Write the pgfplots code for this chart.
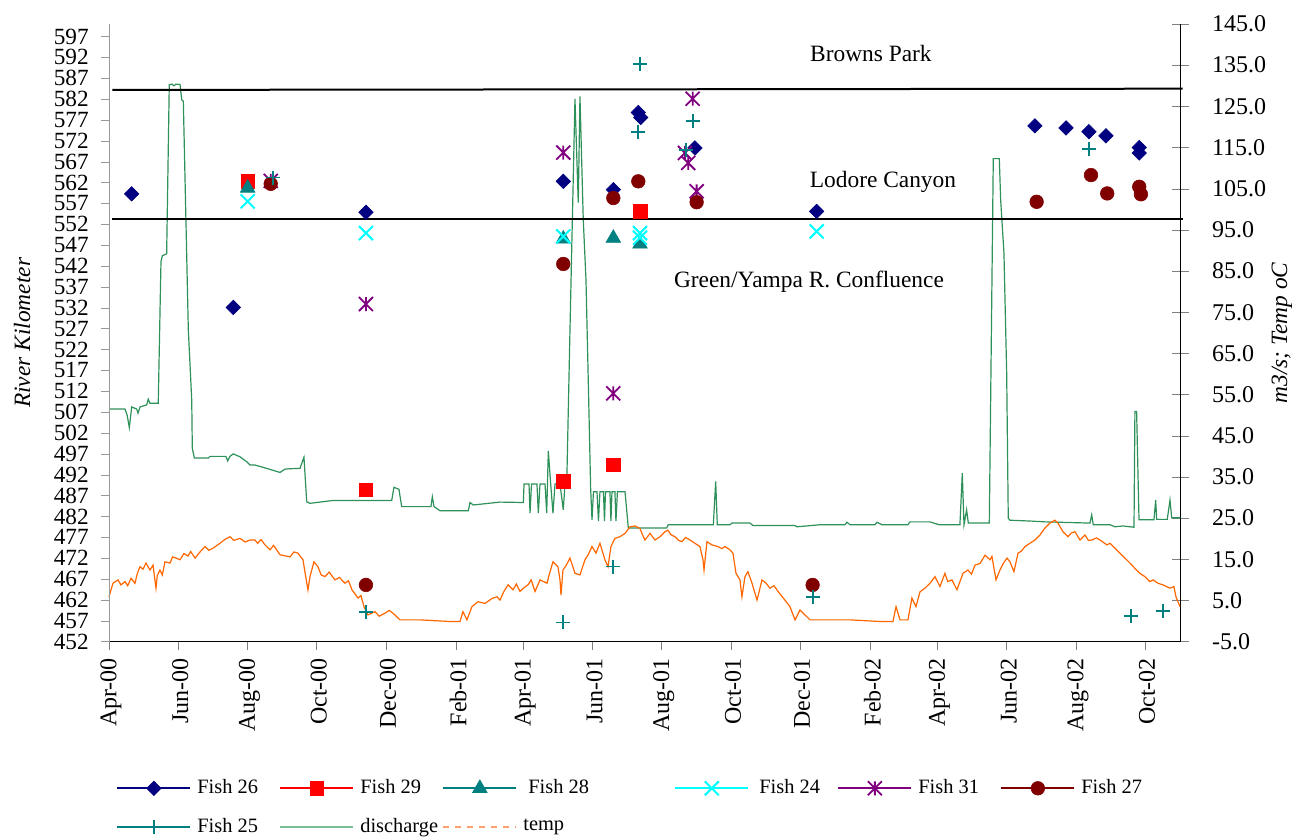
\documentclass[border=0pt]{standalone}
\usepackage{fontspec}
\setmainfont{Liberation Serif}
\usepackage{pgfplots}
\pgfplotsset{compat=1.18}
\definecolor{navyc}{RGB}{0,0,128}
\definecolor{redc}{RGB}{255,0,0}
\definecolor{tealc}{RGB}{0,128,128}
\definecolor{cyanc}{RGB}{0,255,255}
\definecolor{purplec}{RGB}{128,0,128}
\definecolor{darkredc}{RGB}{128,0,0}
\definecolor{dischc}{RGB}{46,145,90}
\definecolor{dischl}{RGB}{120,190,150}
\definecolor{tempc}{RGB}{255,102,0}
\definecolor{templ}{RGB}{255,160,110}
\makeatletter
\pgfdeclareplotmark{xstar}{%
  \pgfpathmoveto{\pgfqpoint{-\pgfplotmarksize}{-\pgfplotmarksize}}%
  \pgfpathlineto{\pgfqpoint{\pgfplotmarksize}{\pgfplotmarksize}}%
  \pgfpathmoveto{\pgfqpoint{-\pgfplotmarksize}{\pgfplotmarksize}}%
  \pgfpathlineto{\pgfqpoint{\pgfplotmarksize}{-\pgfplotmarksize}}%
  \pgfpathmoveto{\pgfqpoint{0pt}{-\pgfplotmarksize}}%
  \pgfpathlineto{\pgfqpoint{0pt}{\pgfplotmarksize}}%
  \pgfusepathqstroke}
\makeatother
\pgfplotsset{
 f26/.style={color=navyc, mark=square*, mark size=2.55pt, mark options={rotate=45, line width=0.3pt, solid}},
 f29/.style={color=redc, mark=square*, mark size=3.4pt, mark options={line width=0.3pt, solid}},
 f28/.style={color=tealc, mark=triangle*, mark size=4.2pt, mark options={line width=0.3pt, solid}},
 f24/.style={color=cyanc, mark=x, mark size=4.95pt, mark options={line width=1pt, solid}},
 f31/.style={color=purplec, mark=xstar, mark size=3.5pt, mark options={line width=0.9pt, solid}},
 f27/.style={color=darkredc, mark=*, mark size=3.4pt, mark options={line width=0.3pt, solid}},
 f25/.style={color=tealc, mark=+, mark size=3.5pt, mark options={line width=0.9pt, solid}},
}
\newcommand{\lt}[2]{\makebox[#1][l]{\hspace{3pt}#2}}
\begin{document}
\fontsize{12}{14}\selectfont
\begin{tikzpicture}
\useasboundingbox (0,0) rectangle (648.5pt,420pt);
% right axis: discharge and temperature
\begin{axis}[
  at={(54.5pt,99.15pt)}, anchor=south west,
  scale only axis, width=535.65pt, height=308.85pt,
  xmin=0, xmax=944, ymin=-5, ymax=145,
  axis x line=none, axis y line*=right,
  ytick={-5,5,...,145},
  tick align=center, major tick length=8.3pt,
  yticklabel={\pgfmathprintnumber[fixed,fixed zerofill,precision=1,assume math mode=true]{\tick}},
  yticklabel style={font=\fontsize{12}{14}\selectfont, xshift=7.5pt},
  every axis y label/.style={at={(axis description cs:1.0947,0.5)}, rotate=90, anchor=center, font=\fontsize{11.7}{14}\selectfont\itshape},
  ylabel={m3/s; Temp oC},
  clip=false,
]
\addplot[dischc, line width=0.6pt] coordinates {
(0,51.5) (14.1,51.5) (16,50.0) (17.9,47.0) (20.0,52.0) (24.4,51.5) (25.6,50.5) (27.3,52.0)
(33.2,52.5) (34.6,53.9) (36.1,52.9) (43.4,52.9) (45.8,87.3) (47.0,88.7) (50.8,89.2)
(53.1,130.3) (55.5,130.4) (57.3,130.0) (59.0,130.4) (62.6,130.3) (64.1,126.6) (65.5,126.2)
(69.9,70.7) (72.9,53.7) (73.4,42.0) (75.2,39.6) (87.5,39.6) (89.0,40.0) (103,40.0) (104.6,38.9)
(106.6,40.0) (109.5,40.6) (115.4,39.9) (121.3,38.7) (124.2,37.9) (128.6,37.9) (137.5,37.2)
(150.7,36.1) (155,36.9) (159.5,37.0) (168.3,37.1) (171.8,39.8) (174.2,29.0) (177.1,28.6)
(197.6,29.3) (249.1,29.3) (251.1,32.5) (255.5,32.0) (257.9,27.8) (283.7,27.8) (284.9,30.2)
(286.4,27.8) (291.7,26.8) (316.6,26.8) (318.1,28.8) (321.0,28.2) (344.5,28.9) (365.1,28.8)
(365.7,33.3) (370.1,33.3) (371.0,26.2) (372.3,33.3) (377.1,33.3) (378.3,26.2) (379.8,33.3)
(384.2,33.3) (385.7,26.2) (387.1,41.3) (389.2,33.3) (391.2,26.2) (393.0,33.3) (397.4,33.3)
(400.3,27.0) (401.8,33.3) (403.3,32.7) (406.2,70.7) (410.6,126.8) (412.0,114.5) (413.5,101.6)
(415.0,127.4) (417.9,97.5) (420.3,82.9) (422.3,58.6) (424.4,32.3) (425.6,24.6) (426.9,31.4)
(430.0,31.4) (431.3,24.3) (432.6,31.4) (435.7,31.4) (436.6,24.3) (437.5,31.4) (441.4,31.4)
(442.3,24.3) (443.2,31.4) (445.8,31.4) (446.7,24.3) (448.0,31.4) (454.7,31.4) (457.6,22.6)
(491.4,22.6) (492.8,23.4) (532.5,23.4) (534.6,33.9) (536.0,23.4) (547.1,23.4) (548.9,23.8)
(564.8,23.8) (567.4,23.2) (604.4,23.2) (606.2,22.9) (626.5,23.4) (648.5,23.4) (650.3,24.0)
(653.0,23.4) (675.0,23.4) (676.7,24.0) (681.1,23.4) (704.0,23.4) (705.8,24.1) (723.4,24.1)
(731.3,23.4) (749.8,23.4) (751.9,35.9) (753.4,23.4) (755.7,27.0) (757.2,23.8) (775.7,23.8)
(779.2,112.3) (784.5,112.3) (785.7,102.3) (788.6,89.4) (791.0,60.2) (792.4,25.0) (793.9,24.5)
(811.5,24.3) (824.8,24.1) (838.0,24.0) (864.4,23.8) (865.9,25.8) (867.3,23.4) (882.0,23.4)
(886.4,22.9) (893.5,23.1) (903.2,22.8) (904.0,50.9) (905.5,50.9) (907.6,24.6) (920.8,24.6)
(922.3,29.4) (923.2,24.7) (932.5,24.7) (934.9,29.4) (936.4,25.1) (944,25.1)
};
\addplot[tempc, line width=0.6pt] coordinates {
(0,5.9) (3.5,9.2) (7.9,10.0) (10.5,8.8) (14.1,9.6) (16.5,8.6) (19.4,10.4) (22.9,9.2) (25,11.6) (27.3,13.2) (30,12.6) (32.6,14.1)
(36.1,12.4) (38.8,13.6) (41.4,8.0) (42.5,11.0) (44.9,12.4) (47,11.2) (49.3,14.4) (53.8,14.1) (56,15.6) (58.2,15.4) (62.6,14.9)
(66,16.4) (69.6,15.8) (72,16.9) (75.8,15.3) (80.2,16.8) (84.6,18.1) (88,17.2) (91.6,17.7) (97.8,18.9) (102,19.8) (106.6,20.5)
(110,19.6) (115.4,20.1) (120,19.2) (124.2,19.7) (128.6,19.7) (131,18.9) (134,19.8) (137.5,18.5) (141.9,17.3) (145,18.4) (150.7,16.1) (159.5,15.6)
(163,16.8) (166.5,16.5) (170.9,14.9) (173.6,10.4) (175.3,7.6) (177.1,10.8) (180.6,14.4) (184.1,13.2)
(187,11.2) (190.3,10.8) (194,11.9) (199.1,10.0) (203,10.6) (207.9,9.2) (211,9.8) (214.1,7.6) (219.4,5.6) (222,6.2) (224.7,3.5) (228.2,1.5)
(234.4,2.3) (238,1.2) (243.2,1.9) (247,2.6) (252.0,1.5) (256.4,0.3) (274.0,0.3) (300.5,-0.1) (309.3,-0.1)
(311.9,2.3) (315.4,0.3) (319.8,3.5) (325.1,4.7) (331.3,4.3) (337.5,5.5) (341.9,5.9)
(344.5,5.1) (348,7.2) (351.6,8.8) (356.0,7.6) (359,9.0) (362.1,7.2) (366,8.2) (369.2,8.8) (372,10.0) (375.4,7.2) (379.8,10.0)
(386.0,9.2) (388,11.4) (391.2,14.4) (395.6,13.2) (397.4,10.0) (398.3,6.3) (400.0,12.4) (403,13.6) (406.2,15.3)
(410.6,11.6) (415.0,11.2) (419.4,14.9) (422,16.0) (425.6,18.1) (429.1,16.5) (432.6,18.9) (437.0,14.9)
(439.7,13.2) (442.3,18.1) (445.8,20.1) (450.2,20.5) (454.7,21.3) (459.1,22.9) (463.5,23.1)
(467.9,22.5) (470,21.0) (472.3,19.7) (476.7,21.3) (481.1,19.7) (485.5,20.5) (489.9,21.7) (492.5,22.1)
(495,21.0) (498.7,20.5) (502,19.6) (504.9,19.3) (508,20.3) (511.9,19.7) (516.3,18.9) (520.7,18.1) (523.4,14.9) (524.3,12.4)
(526.9,19.3) (531.3,18.5) (536.6,18.1) (540,17.6) (542.8,18.1) (547.2,17.3) (549.8,16.5) (552.5,11.6)
(556.0,10.0) (557.7,5.9) (560.4,10.8) (563,12.0) (566.6,9.2) (571.0,5.1) (575.4,10.0) (579,9.2) (582.4,8.0)
(586,8.6) (589.5,7.2) (595.6,5.1) (600.0,3.5) (604.5,0.3) (608.9,2.7) (613.3,1.5) (617.7,0.3)
(652.9,0.3) (679.4,-0.1) (690.8,-0.1) (693.5,3.5) (697.0,0.3) (704.0,0.3) (707.5,5.6)
(711.1,3.5) (714.6,7.1) (719.0,8.0) (723.4,9.2) (727.8,10.8) (732.2,8.4) (736.6,11.6)
(739,9.6) (742.8,10.0) (747.2,7.6) (752.5,11.6) (756.9,12.4) (760,11.4) (763.1,13.6) (767.5,14.0) (771.9,16.0)
(776.3,14.9) (778.0,15.7) (781.6,10.0) (785.1,12.4) (788,14.0) (791.3,15.3) (793.9,14.4) (797.4,12.0)
(801.0,16.5) (804,17.0) (807.1,18.1) (811.5,18.9) (815.9,19.7) (820.3,20.9) (824.7,22.6) (829.1,23.8)
(833.5,24.5) (836.2,23.8) (840.6,21.7) (845.0,20.5) (848,21.4) (851.2,21.7) (855.6,19.7) (860.0,20.9)
(863,19.6) (866.2,19.7) (870,20.2) (873.2,19.7) (879.4,18.5) (882,18.9) (886.4,17.7) (890.8,16.5) (895.2,15.3) (899.6,14.1)
(904.0,12.8) (908.4,11.6) (912.8,10.8) (917.2,9.6) (920,10.0) (924.3,9.2) (928.7,8.8) (934.9,8.0)
(938.3,8.4) (940.2,5.9) (943.7,3.5)
};
\end{axis}
% left axis: river kilometer
\begin{axis}[
  at={(54.5pt,99.15pt)}, anchor=south west,
  scale only axis, width=535.65pt, height=308.85pt,
  xmin=0, xmax=944, ymin=452, ymax=600,
  axis x line*=bottom, axis y line*=left,
  y axis line style={draw=gray!80},
  ytick style={draw=gray!80},
  ytick={452,457,...,597},
  yticklabel={\pgfmathprintnumber[fixed,precision=0,assume math mode=true]{\tick}},
  xtick={0,61,122,183,244,306,365,426,487,548,609,671,730,791,852,913},
  xticklabels={Apr-00,Jun-00,Aug-00,Oct-00,Dec-00,Feb-01,Apr-01,Jun-01,Aug-01,Oct-01,Dec-01,Feb-02,Apr-02,Jun-02,Aug-02,Oct-02},
  tick align=outside,
  major tick length=4pt,
  xticklabel style={rotate=90, anchor=east, font=\fontsize{12}{14}\selectfont, yshift=-1pt},
  yticklabel style={font=\fontsize{11.6}{13}\selectfont, xshift=-2pt},
  every axis y label/.style={at={(axis description cs:-0.0812,0.5)}, rotate=90, anchor=center, font=\fontsize{11.7}{14}\selectfont\itshape},
  ylabel={River Kilometer},
  clip=false,
  legend columns=6,
  legend cell align=left,
  legend style={draw=none, fill=none, at={(axis description cs:0.0065,-0.2223)}, anchor=north west,
     inner sep=0pt, column sep=0pt, row sep=10.5pt, nodes={inner sep=0pt}, font=\fontsize{10.2}{12}\selectfont},
  legend image code/.code={
     \draw[#1] (0pt,0pt) -- (36.5pt,0pt);
     \draw[#1] plot coordinates {(18.25pt,0pt)};
  },
]
\addplot[black, line width=1pt, forget plot] coordinates {(3,584.2) (946,584.5)};
\addplot[black, line width=1pt, forget plot] coordinates {(3,553.3) (946,553.3)};
\node[font=\fontsize{11.7}{14}\selectfont] at (axis cs:671.4,592.9) {Browns Park};
\node[font=\fontsize{11.7}{14}\selectfont] at (axis cs:682.0,562.2) {Lodore Canyon};
\node[font=\fontsize{11.7}{14}\selectfont] at (axis cs:616.8,538.2) {Green/Yampa R. Confluence};

\addplot[only marks, f26, forget plot] coordinates {
(20.0,559.3) (109.5,532.1) (226.4,554.9) (400.3,562.3) (444.4,560.3) (466.4,578.8) (468.5,577.6)
(516.3,570.3) (623.6,555.1) (815.9,575.6) (843.3,575.1) (863.5,574.2) (878.5,573.2) (907.8,570.4) (907.8,569.1)};
\addplot[only marks, f29, forget plot] coordinates {
(122.2,562.3) (226.4,488.4) (400.3,490.4) (444.4,494.4) (468.2,555.1)};
\addplot[only marks, f28, forget plot] coordinates {
(122.2,560.7) (400.3,548.5) (444.4,548.7) (467.9,547.3)};
\addplot[only marks, f24, forget plot] coordinates {
(122.2,557.5) (226.4,549.9) (400.3,549.1) (467.9,549.9) (467.9,548.8) (623.6,550.3)};
\addplot[only marks, f31, forget plot] coordinates {
(142.5,562.4) (226.4,532.9) (400.3,569.2) (444.4,511.5) (514.3,582.1) (507.5,569.1) (510.4,566.7) (517.8,559.9)};
\addplot[only marks, f27, forget plot] coordinates {
(142.5,561.7) (226.4,465.6) (400.3,542.5) (444.4,558.3) (466.4,562.3) (517.8,557.3) (620.0,465.6)
(817.4,557.4) (865.3,563.8) (879.6,559.4) (907.8,561.0) (909.3,559.2)};
\addplot[only marks, f25, forget plot] coordinates {
(144.2,563.2) (226.4,459.2) (400.3,456.6) (444.4,470.0) (468.2,590.5) (466.4,574.2) (508.2,569.9)
(514.3,576.8) (620.0,462.8) (863.5,570.1) (900.3,458.2) (929.0,459.4)};

\addlegendimage{f26, line width=1pt}
\addlegendentry{\lt{44pt}{Fish 26}}
\addlegendimage{f29, line width=1pt}
\addlegendentry{\lt{44pt}{Fish 29}}
\addlegendimage{f28, line width=1pt}
\addlegendentry{\lt{78.5pt}{\hspace{2.5pt}Fish 28}}
\addlegendimage{f24, line width=1pt}
\addlegendentry{\lt{44pt}{\hspace{2pt}Fish 24}}
\addlegendimage{f31, line width=1pt}
\addlegendentry{\lt{44pt}{Fish 31}}
\addlegendimage{f27, line width=1pt}
\addlegendentry{\lt{44pt}{Fish 27}}
\addlegendimage{f25, line width=1pt}
\addlegendentry{\lt{44pt}{Fish 25}}
\addlegendimage{color=dischl, line width=0.9pt}
\addlegendentry{\lt{44pt}{discharge}}
\addlegendimage{color=templ, line width=0.8pt, dash pattern=on 3pt off 3pt}
\addlegendentry{\lt{78.5pt}{temp}}
\end{axis}
\end{tikzpicture}
\end{document}
